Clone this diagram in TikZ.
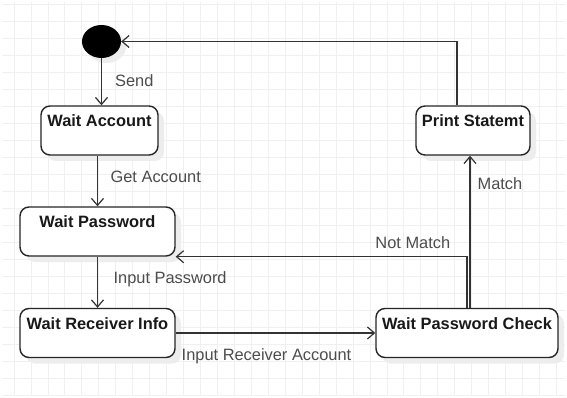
\documentclass[tikz,border=0pt]{standalone}
\usepackage{fontspec}
\setmainfont{Liberation Sans}
\usetikzlibrary{arrows.meta}
\usetikzlibrary{shapes.geometric}
\usetikzlibrary{shadows}

\begin{document}
\begin{tikzpicture}[x=1pt,y=-1pt,every node/.style={inner sep=0pt,font=\fontsize{16.4}{19}\selectfont},
    st/.style={draw=black!85,line width=1.4pt,rounded corners=9pt,fill=white,text=black!90,
      text height=20.5pt,text depth=28.5pt,font=\fontsize{16.4}{19}\selectfont\bfseries,
      drop shadow={shadow xshift=6pt,shadow yshift=-6pt,fill=black!7,opacity=1}},
    tr/.style={draw=black!80,line width=1.2pt,-{Straight Barb[length=7pt,width=12pt]}},
    lbl/.style={text=black!70},
    gridln/.style={draw=black!6,line width=0.8pt}]

	\useasboundingbox[fill=white] (0,0) rectangle (567,398);
	\foreach \i in {0,...,32} \draw[gridln] (14+16.95*\i,2) -- (14+16.95*\i,396);
	\foreach \j in {0,...,23} \draw[gridln] (2,4+17*\j) -- (565,4+17*\j);

	\node[ellipse,fill=black,minimum width=39pt,minimum height=33pt,
	      drop shadow={shadow xshift=5pt,shadow yshift=-5pt,fill=black!7,opacity=1}] (init) at (101.5,41.5) {};
	\node[st,minimum width=117pt] (wa)  at (99.5,130.5) {Wait Account};
	\node[st,minimum width=155pt] (wp)  at (97.5,231.5) {Wait Password};
	\node[st,minimum width=155pt] (wri) at (97.5,333)   {Wait Receiver Info};
	\node[st,minimum width=182pt] (wpc) at (467,333)    {Wait Password Check};
	\node[st,minimum width=114pt] (ps)  at (473,130.5)  {Print Statemt};

	\coordinate (mt) at ([xshift=3pt]wpc.north);
	\coordinate (rt) at ([xshift=-16pt]ps.north);

	\path (init) edge[tr] node[lbl,right=13pt,pos=0.47] (lsend) {Send} (init |- wa.north)
	      (wa.south -| wp) edge[tr] node[lbl,right=12.5pt,pos=0.42] (lget) {Get Account} (wp.north)
	      (wp) edge[tr] node[lbl,right=15.5pt,pos=0.44] (lpwd) {Input Password} (wri)
	      (wri) edge[tr] node[lbl,below=15pt,pos=0.455] (lrcv) {Input Receiver Account} (wpc)
	      (mt) edge[tr] node[lbl,right=7pt,pos=0.817] (lmatch) {Match} (mt |- ps.south);
	\draw[tr] (wpc.north) |- node[lbl,above=7pt,pos=0.593] (lnot) {Not Match} (wp.south east);
	\draw[tr] (rt) |- (init.east);
\end{tikzpicture}
\end{document}
